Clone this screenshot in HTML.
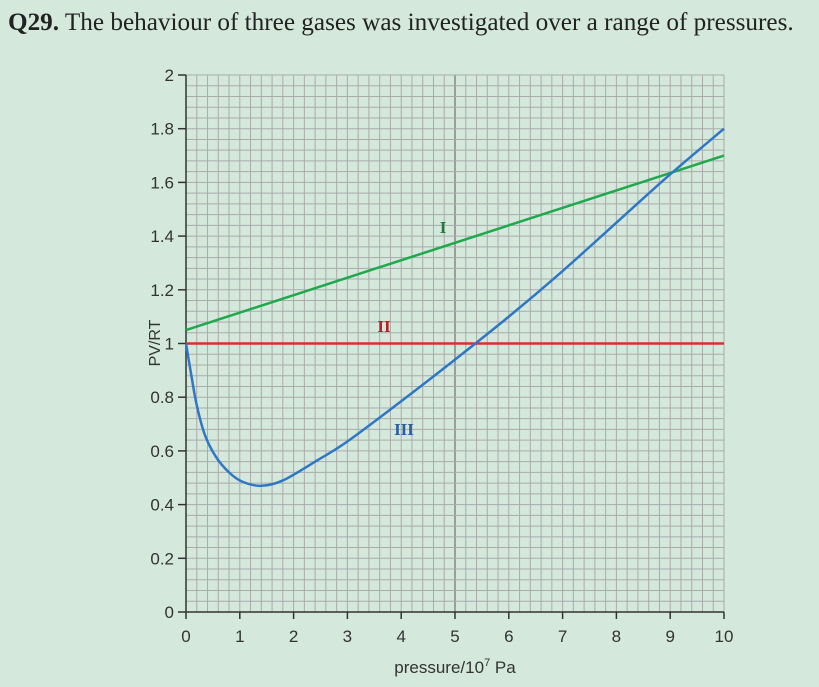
<!DOCTYPE html>
<html><head><meta charset="utf-8"><style>
body{margin:0;background:#d4e8dc;width:819px;height:687px;overflow:hidden;font-family:"Liberation Sans",sans-serif}
#title{position:absolute;left:8px;top:9px;font-family:"Liberation Serif",serif;font-size:25.2px;color:#222}
</style></head><body>
<div id="title"><b>Q29.</b> The behaviour of three gases was investigated over a range of pressures.</div>
<svg id="chart" width="819" height="687" style="position:absolute;left:0;top:0"></svg>
<script>
const xTicks=[0,1,2,3,4,5,6,7,8,9,10];
const yTicks=[0,0.2,0.4,0.6,0.8,1,1.2,1.4,1.6,1.8,2];
const yTickLabels=["0","0.2","0.4","0.6","0.8","1","1.2","1.4","1.6","1.8","2"];
const gasIX=[0,10];
const gasIY=[1.05,1.7];
const gasIIX=[0,10];
const gasIIY=[1,1];
const gasIIIX=[0,0.1,0.2,0.35,0.55,0.8,1.05,1.4,1.8,2.4,3,4,5,6,7,8,9,10];
const gasIIIY=[1,0.88,0.77,0.66,0.58,0.52,0.485,0.47,0.49,0.56,0.635,0.785,0.94,1.1,1.27,1.45,1.63,1.8];
const X0=186,X1=724,Y0=612,Y1=75;
const sx=v=>X0+(X1-X0)*v/10, sy=v=>Y0-(Y0-Y1)*v/2;
const svg=document.getElementById('chart');const NS='http://www.w3.org/2000/svg';
function mk(t,a,p){const e=document.createElementNS(NS,t);for(const k in a)e.setAttribute(k,a[k]);(p||svg).appendChild(e);return e;}
const grid=mk('g',{});


for(let i=0;i<=50;i++){const x=sx(i*0.2);mk('line',{x1:x,x2:x,y1:Y1,y2:Y0,stroke:i==25?'#8c8c8c':'#ababab','stroke-width':i==25?1.6:1},grid);}
for(let i=0;i<=50;i++){const y=sy(i*0.04);mk('line',{x1:X0,x2:X1,y1:y,y2:y,stroke:'#ababab','stroke-width':1},grid);}
const ax=mk('g',{stroke:'#333','stroke-width':1.5,fill:'none'});


mk('line',{x1:X0,x2:X0,y1:Y1,y2:Y0},ax);mk('line',{x1:X0,x2:X1,y1:Y0,y2:Y0},ax);
xTicks.forEach(v=>{mk('line',{x1:sx(v),x2:sx(v),y1:Y0,y2:Y0+7},ax);const t=mk('text',{x:sx(v),y:Y0+30,'text-anchor':'middle','font-size':17,fill:'#333'});t.textContent=v;

});
yTicks.forEach((v,i)=>{mk('line',{x1:X0-8,x2:X0,y1:sy(v),y2:sy(v)},ax);const t=mk('text',{x:X0-12,y:sy(v)+6,'text-anchor':'end','font-size':17,fill:'#333'});t.textContent=yTickLabels[i];

});
let t=mk('text',{x:455,y:673,'text-anchor':'middle','font-size':17,fill:'#333'});t.innerHTML='pressure/10<tspan dy="-7" font-size="11">7</tspan><tspan dy="7"> Pa</tspan>';


t=mk('text',{x:0,y:0,'text-anchor':'middle','font-size':16,fill:'#333'});
t.setAttribute('transform','translate(160,343) rotate(-90)');t.textContent='PV/RT';


function line(xs,ys,c,name){let d='';if(xs.length==2){d=`M${sx(xs[0])},${sy(ys[0])}L${sx(xs[1])},${sy(ys[1])}`;}else{
const P=xs.map((x,i)=>[sx(x),sy(ys[i])]);d=`M${P[0][0]},${P[0][1]}`;
for(let i=0;i<P.length-1;i++){const p0=P[Math.max(0,i-1)],p1=P[i],p2=P[i+1],p3=P[Math.min(P.length-1,i+2)];
d+=`C${p1[0]+(p2[0]-p0[0])/6},${p1[1]+(p2[1]-p0[1])/6} ${p2[0]-(p3[0]-p1[0])/6},${p2[1]-(p3[1]-p1[1])/6} ${p2[0]},${p2[1]}`;}}
const e=mk('path',{d,stroke:c,'stroke-width':2.5,fill:'none','stroke-linejoin':'round'});

}
line(gasIIX,gasIIY,'#e32b2b','gas-ii-line');
line(gasIX,gasIY,'#1fa84c','gas-i-line');
line(gasIIIX,gasIIIY,'#2f77c4','gas-iii-curve');
[['I',443,233,'#1f7a3c','label-i'],['II',384,332,'#b5232a','label-ii'],['III',404,435,'#2a5d9e','label-iii']].forEach(a=>{const e=mk('text',{x:a[1],y:a[2],'text-anchor':'middle','font-size':17,'font-weight':'bold',fill:a[3],'font-family':'Liberation Serif'});e.textContent=a[0];

});
</script>
</body></html>
